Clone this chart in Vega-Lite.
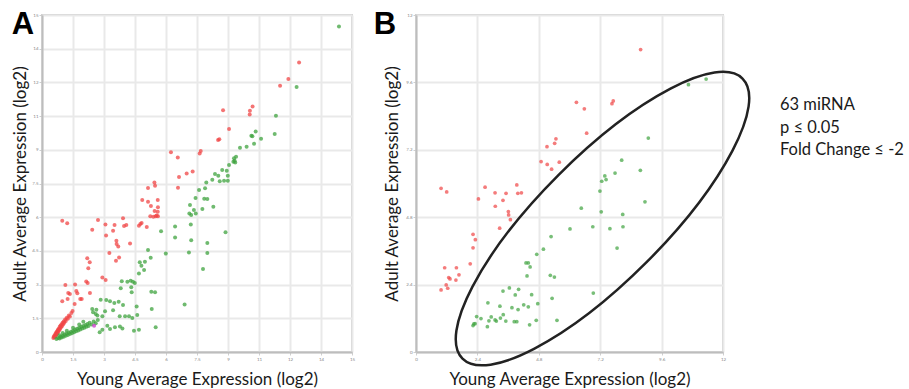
{
  "$schema": "https://vega.github.io/schema/vega-lite/v6.json",
  "background": "white",
  "padding": {"left": 10, "top": 8, "right": 5, "bottom": 5},
  "config": {
    "font": "Lato",
    "view": {"stroke": "#cfcfcf", "strokeWidth": 2},
    "axis": {
      "grid": true, "gridColor": "#e9e9e9", "gridWidth": 2,
      "domainColor": "#bdbdbd", "domainWidth": 2,
      "tickColor": "#cfcfcf", "tickSize": 3,
      "labelFontSize": 4.5, "labelColor": "#888", "labelPadding": 1, "labelFlush": false, "labelOverlap": false,
      "titleFontSize": 17, "titleFontWeight": "normal", "titleColor": "#1a1a1a", "titleFont": "Lato"
    }
  },
  "spacing": 16,
  "datasets": {
    "a": [
      {"young":12.44,"adult":12.89,"dir":"up"},{"young":11.92,"adult":12.15,"dir":"up"},{"young":11.52,"adult":11.85,"dir":"up"},{"young":10.19,"adult":10.93,"dir":"up"},{"young":10.06,"adult":10.74,"dir":"up"},{"young":10.05,"adult":10.57,"dir":"up"},{"young":8.76,"adult":10.76,"dir":"up"},{"young":9.05,"adult":9.93,"dir":"up"},{"young":8.52,"adult":9.44,"dir":"up"},{"young":8.58,"adult":9.47,"dir":"up"},{"young":7.68,"adult":8.95,"dir":"up"},{"young":7.63,"adult":8.84,"dir":"up"},{"young":6.24,"adult":8.89,"dir":"up"},{"young":6.57,"adult":8.66,"dir":"up"},{"young":7.29,"adult":8.03,"dir":"up"},{"young":7.0,"adult":7.94,"dir":"up"},{"young":6.63,"adult":7.79,"dir":"up"},{"young":6.58,"adult":7.31,"dir":"up"},{"young":5.44,"adult":7.55,"dir":"up"},{"young":5.47,"adult":7.4,"dir":"up"},{"young":5.13,"adult":7.3,"dir":"up"},{"young":4.85,"adult":6.77,"dir":"up"},{"young":5.13,"adult":6.69,"dir":"up"},{"young":5.6,"adult":6.77,"dir":"up"},{"young":5.27,"adult":6.5,"dir":"up"},{"young":5.61,"adult":6.44,"dir":"up"},{"young":5.45,"adult":6.28,"dir":"up"},{"young":5.6,"adult":6.24,"dir":"up"},{"young":5.24,"adult":6.04,"dir":"up"},{"young":5.39,"adult":6.02,"dir":"up"},{"young":5.5,"adult":6.04,"dir":"up"},{"young":5.55,"adult":6.08,"dir":"up"},{"young":5.61,"adult":6.04,"dir":"up"},{"young":3.92,"adult":5.95,"dir":"up"},{"young":3.07,"adult":5.67,"dir":"up"},{"young":3.51,"adult":5.65,"dir":"up"},{"young":3.97,"adult":5.61,"dir":"up"},{"young":4.08,"adult":5.65,"dir":"up"},{"young":4.69,"adult":5.62,"dir":"up"},{"young":4.76,"adult":5.7,"dir":"up"},{"young":4.82,"adult":5.74,"dir":"up"},{"young":5.07,"adult":5.56,"dir":"up"},{"young":3.44,"adult":5.4,"dir":"up"},{"young":3.1,"adult":5.19,"dir":"up"},{"young":3.6,"adult":4.95,"dir":"up"},{"young":3.61,"adult":4.81,"dir":"up"},{"young":3.69,"adult":4.7,"dir":"up"},{"young":4.26,"adult":4.83,"dir":"up"},{"young":3.26,"adult":4.41,"dir":"up"},{"young":3.73,"adult":4.21,"dir":"up"},{"young":3.58,"adult":4.06,"dir":"up"},{"young":0.98,"adult":5.84,"dir":"up"},{"young":1.22,"adult":5.73,"dir":"up"},{"young":2.43,"adult":5.44,"dir":"up"},{"young":2.71,"adult":5.88,"dir":"up"},{"young":2.19,"adult":4.17,"dir":"up"},{"young":2.31,"adult":3.99,"dir":"up"},{"young":2.24,"adult":3.73,"dir":"up"},{"young":2.92,"adult":3.32,"dir":"up"},{"young":3.08,"adult":3.2,"dir":"up"},{"young":2.14,"adult":3.14,"dir":"up"},{"young":2.21,"adult":3.07,"dir":"up"},{"young":1.13,"adult":2.98,"dir":"up"},{"young":1.6,"adult":3.0,"dir":"up"},{"young":1.27,"adult":2.63,"dir":"up"},{"young":1.35,"adult":2.58,"dir":"up"},{"young":1.66,"adult":2.72,"dir":"up"},{"young":1.71,"adult":2.61,"dir":"up"},{"young":1.85,"adult":2.36,"dir":"up"},{"young":1.92,"adult":2.36,"dir":"up"},{"young":2.32,"adult":2.63,"dir":"up"},{"young":0.98,"adult":2.26,"dir":"up"},{"young":1.24,"adult":2.36,"dir":"up"},{"young":1.58,"adult":2.14,"dir":"up"},
      {"young":0.55,"adult":0.62,"dir":"up"},{"young":0.58,"adult":0.7,"dir":"up"},{"young":0.6,"adult":0.66,"dir":"up"},{"young":0.62,"adult":0.75,"dir":"up"},{"young":0.63,"adult":0.68,"dir":"up"},{"young":0.65,"adult":0.8,"dir":"up"},{"young":0.67,"adult":0.72,"dir":"up"},{"young":0.68,"adult":0.86,"dir":"up"},{"young":0.7,"adult":0.78,"dir":"up"},{"young":0.72,"adult":0.9,"dir":"up"},{"young":0.73,"adult":0.82,"dir":"up"},{"young":0.75,"adult":0.95,"dir":"up"},{"young":0.77,"adult":0.88,"dir":"up"},{"young":0.78,"adult":1.0,"dir":"up"},{"young":0.8,"adult":0.93,"dir":"up"},{"young":0.82,"adult":1.05,"dir":"up"},{"young":0.84,"adult":0.98,"dir":"up"},{"young":0.86,"adult":1.12,"dir":"up"},{"young":0.88,"adult":1.04,"dir":"up"},{"young":0.9,"adult":1.18,"dir":"up"},{"young":0.92,"adult":1.1,"dir":"up"},{"young":0.95,"adult":1.24,"dir":"up"},{"young":0.97,"adult":1.16,"dir":"up"},{"young":1.0,"adult":1.3,"dir":"up"},{"young":1.02,"adult":1.22,"dir":"up"},{"young":1.05,"adult":1.36,"dir":"up"},{"young":1.08,"adult":1.3,"dir":"up"},{"young":1.12,"adult":1.45,"dir":"up"},{"young":1.15,"adult":1.38,"dir":"up"},{"young":1.2,"adult":1.52,"dir":"up"},{"young":1.25,"adult":1.48,"dir":"up"},{"young":1.3,"adult":1.62,"dir":"up"},{"young":1.35,"adult":1.58,"dir":"up"},{"young":1.42,"adult":1.74,"dir":"up"},{"young":1.48,"adult":1.82,"dir":"up"},
      {"young":14.37,"adult":14.49,"dir":"down"},{"young":12.32,"adult":11.8,"dir":"down"},{"young":11.32,"adult":10.52,"dir":"down"},{"young":11.26,"adult":9.7,"dir":"down"},{"young":10.34,"adult":9.81,"dir":"down"},{"young":10.13,"adult":9.63,"dir":"down"},{"young":10.18,"adult":9.6,"dir":"down"},{"young":10.6,"adult":9.49,"dir":"down"},{"young":10.26,"adult":9.27,"dir":"down"},{"young":9.9,"adult":9.14,"dir":"down"},{"young":9.58,"adult":9.09,"dir":"down"},{"young":9.39,"adult":8.69,"dir":"down"},{"young":9.29,"adult":8.62,"dir":"down"},{"young":9.32,"adult":8.51,"dir":"down"},{"young":9.26,"adult":8.47,"dir":"down"},{"young":9.35,"adult":8.44,"dir":"down"},{"young":9.05,"adult":8.32,"dir":"down"},{"young":8.72,"adult":8.1,"dir":"down"},{"young":8.94,"adult":8.07,"dir":"down"},{"young":8.37,"adult":7.92,"dir":"down"},{"young":8.53,"adult":7.85,"dir":"down"},{"young":8.24,"adult":7.67,"dir":"down"},{"young":8.6,"adult":7.6,"dir":"down"},{"young":8.99,"adult":7.85,"dir":"down"},{"young":8.81,"adult":7.62,"dir":"down"},{"young":8.99,"adult":7.62,"dir":"down"},{"young":7.95,"adult":7.55,"dir":"down"},{"young":7.89,"adult":7.29,"dir":"down"},{"young":7.6,"adult":7.21,"dir":"down"},{"young":7.43,"adult":6.85,"dir":"down"},{"young":7.85,"adult":6.82,"dir":"down"},{"young":8.0,"adult":6.81,"dir":"down"},{"young":7.16,"adult":6.54,"dir":"down"},{"young":7.35,"adult":6.32,"dir":"down"},{"young":7.76,"adult":6.36,"dir":"down"},{"young":8.29,"adult":6.47,"dir":"down"},{"young":7.13,"adult":6.16,"dir":"down"},{"young":7.22,"adult":6.1,"dir":"down"},{"young":7.44,"adult":6.16,"dir":"down"},{"young":6.44,"adult":5.59,"dir":"down"},{"young":7.2,"adult":5.67,"dir":"down"},{"young":5.76,"adult":5.37,"dir":"down"},{"young":6.44,"adult":5.1,"dir":"down"},{"young":7.22,"adult":4.97,"dir":"down"},{"young":8.0,"adult":4.85,"dir":"down"},{"young":8.88,"adult":5.33,"dir":"down"},{"young":5.13,"adult":4.54,"dir":"down"},{"young":5.26,"adult":4.2,"dir":"down"},{"young":5.99,"adult":4.38,"dir":"down"},{"young":7.11,"adult":4.43,"dir":"down"},{"young":8.0,"adult":4.41,"dir":"down"},{"young":7.79,"adult":3.69,"dir":"down"},{"young":4.81,"adult":3.84,"dir":"down"},{"young":4.73,"adult":3.99,"dir":"down"},{"young":4.98,"adult":4.02,"dir":"down"},{"young":4.94,"adult":3.65,"dir":"down"},{"young":4.69,"adult":3.49,"dir":"down"},{"young":3.86,"adult":3.15,"dir":"down"},{"young":4.13,"adult":3.13,"dir":"down"},{"young":4.29,"adult":3.17,"dir":"down"},{"young":4.4,"adult":3.13,"dir":"down"},{"young":4.49,"adult":3.07,"dir":"down"},{"young":3.81,"adult":2.84,"dir":"down"},{"young":4.32,"adult":2.88,"dir":"down"},{"young":4.34,"adult":2.66,"dir":"down"},{"young":5.29,"adult":2.68,"dir":"down"},{"young":5.47,"adult":2.66,"dir":"down"},{"young":2.84,"adult":2.33,"dir":"down"},{"young":3.11,"adult":2.31,"dir":"down"},{"young":3.29,"adult":2.26,"dir":"down"},{"young":3.5,"adult":2.18,"dir":"down"},{"young":3.71,"adult":2.24,"dir":"down"},{"young":3.92,"adult":2.09,"dir":"down"},{"young":4.58,"adult":2.03,"dir":"down"},{"young":5.31,"adult":1.91,"dir":"down"},{"young":6.9,"adult":2.11,"dir":"down"},{"young":2.43,"adult":1.91,"dir":"down"},{"young":2.63,"adult":1.88,"dir":"down"},{"young":2.47,"adult":1.77,"dir":"down"},{"young":3.05,"adult":1.81,"dir":"down"},{"young":3.44,"adult":1.86,"dir":"down"},{"young":3.76,"adult":1.59,"dir":"down"},{"young":4.02,"adult":1.59,"dir":"down"},{"young":4.21,"adult":1.59,"dir":"down"},{"young":4.37,"adult":1.51,"dir":"down"},{"young":4.61,"adult":1.65,"dir":"down"},{"young":2.92,"adult":1.59,"dir":"down"},{"young":5.5,"adult":1.1,"dir":"down"},{"young":4.69,"adult":0.99,"dir":"down"},{"young":3.89,"adult":1.05,"dir":"down"},{"young":3.77,"adult":1.14,"dir":"down"},{"young":3.53,"adult":1.1,"dir":"down"},{"young":3.16,"adult":1.17,"dir":"down"},{"young":3.29,"adult":1.02,"dir":"down"},{"young":2.79,"adult":0.88,"dir":"down"},{"young":2.92,"adult":0.99,"dir":"down"},{"young":2.6,"adult":1.69,"dir":"down"},{"young":2.68,"adult":1.62,"dir":"down"},{"young":4.45,"adult":0.95,"dir":"down"},
      {"young":0.7,"adult":0.58,"dir":"down"},{"young":0.78,"adult":0.62,"dir":"down"},{"young":0.85,"adult":0.6,"dir":"down"},{"young":0.9,"adult":0.68,"dir":"down"},{"young":0.95,"adult":0.64,"dir":"down"},{"young":1.0,"adult":0.72,"dir":"down"},{"young":1.05,"adult":0.68,"dir":"down"},{"young":1.1,"adult":0.78,"dir":"down"},{"young":1.15,"adult":0.72,"dir":"down"},{"young":1.2,"adult":0.82,"dir":"down"},{"young":1.25,"adult":0.76,"dir":"down"},{"young":1.3,"adult":0.86,"dir":"down"},{"young":1.35,"adult":0.8,"dir":"down"},{"young":1.4,"adult":0.9,"dir":"down"},{"young":1.45,"adult":0.84,"dir":"down"},{"young":1.5,"adult":0.95,"dir":"down"},{"young":1.55,"adult":0.88,"dir":"down"},{"young":1.6,"adult":1.0,"dir":"down"},{"young":1.65,"adult":0.92,"dir":"down"},{"young":1.7,"adult":1.04,"dir":"down"},{"young":1.75,"adult":0.96,"dir":"down"},{"young":1.8,"adult":1.08,"dir":"down"},{"young":1.85,"adult":1.0,"dir":"down"},{"young":1.9,"adult":1.12,"dir":"down"},{"young":1.95,"adult":1.05,"dir":"down"},{"young":2.0,"adult":1.16,"dir":"down"},{"young":2.05,"adult":1.08,"dir":"down"},{"young":2.1,"adult":1.2,"dir":"down"},{"young":2.15,"adult":1.12,"dir":"down"},{"young":2.2,"adult":1.25,"dir":"down"},{"young":2.25,"adult":1.16,"dir":"down"},{"young":2.3,"adult":1.3,"dir":"down"},{"young":2.4,"adult":1.22,"dir":"down"},{"young":2.5,"adult":1.36,"dir":"down"},{"young":2.6,"adult":1.28,"dir":"down"},{"young":2.7,"adult":1.42,"dir":"down"},{"young":1.2,"adult":0.95,"dir":"down"},{"young":1.5,"adult":1.08,"dir":"down"},{"young":1.8,"adult":1.22,"dir":"down"},{"young":2.0,"adult":1.35,"dir":"down"},{"young":1.0,"adult":0.85,"dir":"down"},{"young":0.85,"adult":0.75,"dir":"down"},
      {"young":2.52,"adult":1.17,"dir":"other"}
    ],
    "b": [
      {"young":0.98,"adult":5.83,"dir":"up"},{"young":1.2,"adult":5.7,"dir":"up"},{"young":2.7,"adult":5.87,"dir":"up"},{"young":2.44,"adult":5.45,"dir":"up"},{"young":3.09,"adult":5.67,"dir":"up"},{"young":3.52,"adult":5.65,"dir":"up"},{"young":3.4,"adult":5.4,"dir":"up"},{"young":3.1,"adult":5.19,"dir":"up"},{"young":3.94,"adult":5.95,"dir":"up"},{"young":3.98,"adult":5.65,"dir":"up"},{"young":4.12,"adult":5.67,"dir":"up"},{"young":3.61,"adult":5.0,"dir":"up"},{"young":3.62,"adult":4.88,"dir":"up"},{"young":3.69,"adult":4.71,"dir":"up"},{"young":3.27,"adult":4.41,"dir":"up"},{"young":4.89,"adult":6.78,"dir":"up"},{"young":5.13,"adult":6.68,"dir":"up"},{"young":5.6,"adult":6.76,"dir":"up"},{"young":2.23,"adult":4.19,"dir":"up"},{"young":2.32,"adult":4.0,"dir":"up"},{"young":2.23,"adult":3.71,"dir":"up"},{"young":2.12,"adult":3.14,"dir":"up"},{"young":1.12,"adult":3.0,"dir":"up"},{"young":1.58,"adult":3.0,"dir":"up"},{"young":1.68,"adult":2.75,"dir":"up"},{"young":1.28,"adult":2.65,"dir":"up"},{"young":1.33,"adult":2.6,"dir":"up"},{"young":1.56,"adult":2.56,"dir":"up"},{"young":1.18,"adult":2.39,"dir":"up"},{"young":1.24,"adult":2.27,"dir":"up"},{"young":0.98,"adult":2.21,"dir":"up"},{"young":8.78,"adult":10.77,"dir":"up"},{"young":6.27,"adult":8.89,"dir":"up"},{"young":6.58,"adult":8.66,"dir":"up"},{"young":7.66,"adult":8.84,"dir":"up"},{"young":7.71,"adult":8.94,"dir":"up"},{"young":6.67,"adult":7.79,"dir":"up"},{"young":5.47,"adult":7.59,"dir":"up"},{"young":5.42,"adult":7.43,"dir":"up"},{"young":5.12,"adult":7.31,"dir":"up"},{"young":5.3,"adult":6.51,"dir":"up"},
      {"young":6.02,"adult":4.38,"dir":"down"},{"young":5.28,"adult":4.11,"dir":"down"},{"young":4.98,"adult":3.66,"dir":"down"},{"young":4.72,"adult":3.48,"dir":"down"},{"young":4.3,"adult":3.17,"dir":"down"},{"young":4.39,"adult":3.17,"dir":"down"},{"young":4.46,"adult":3.03,"dir":"down"},{"young":4.34,"adult":2.71,"dir":"down"},{"young":5.25,"adult":2.73,"dir":"down"},{"young":5.41,"adult":2.67,"dir":"down"},{"young":3.65,"adult":2.28,"dir":"down"},{"young":3.4,"adult":2.17,"dir":"down"},{"young":4.01,"adult":2.23,"dir":"down"},{"young":3.88,"adult":2.03,"dir":"down"},{"young":4.52,"adult":2.04,"dir":"down"},{"young":5.32,"adult":1.91,"dir":"down"},{"young":2.81,"adult":1.75,"dir":"down"},{"young":3.28,"adult":1.63,"dir":"down"},{"young":3.75,"adult":1.58,"dir":"down"},{"young":3.99,"adult":1.51,"dir":"down"},{"young":4.21,"adult":1.68,"dir":"down"},{"young":4.39,"adult":1.61,"dir":"down"},{"young":4.76,"adult":1.72,"dir":"down"},{"young":2.37,"adult":1.26,"dir":"down"},{"young":2.54,"adult":1.19,"dir":"down"},{"young":2.94,"adult":1.25,"dir":"down"},{"young":3.09,"adult":1.14,"dir":"down"},{"young":3.14,"adult":1.1,"dir":"down"},{"young":3.41,"adult":1.33,"dir":"down"},{"young":3.3,"adult":1.21,"dir":"down"},{"young":3.51,"adult":1.1,"dir":"down"},{"young":3.84,"adult":1.08,"dir":"down"},{"young":3.94,"adult":1.08,"dir":"down"},{"young":2.85,"adult":1.11,"dir":"down"},{"young":2.26,"adult":1.0,"dir":"down"},{"young":2.31,"adult":1.01,"dir":"down"},{"young":2.23,"adult":0.94,"dir":"down"},{"young":2.79,"adult":0.9,"dir":"down"},{"young":4.44,"adult":0.97,"dir":"down"},{"young":4.7,"adult":1.13,"dir":"down"},{"young":5.51,"adult":1.13,"dir":"down"},{"young":10.65,"adult":9.52,"dir":"down"},{"young":11.34,"adult":9.72,"dir":"down"},{"young":9.08,"adult":7.62,"dir":"down"},{"young":8.04,"adult":6.83,"dir":"down"},{"young":8.77,"adult":6.47,"dir":"down"},{"young":7.78,"adult":6.37,"dir":"down"},{"young":7.38,"adult":6.27,"dir":"down"},{"young":7.43,"adult":6.14,"dir":"down"},{"young":7.26,"adult":6.08,"dir":"down"},{"young":7.19,"adult":5.73,"dir":"down"},{"young":8.95,"adult":5.35,"dir":"down"},{"young":6.46,"adult":5.12,"dir":"down"},{"young":7.24,"adult":4.99,"dir":"down"},{"young":8.08,"adult":4.9,"dir":"down"},{"young":6.91,"adult":4.46,"dir":"down"},{"young":7.58,"adult":4.39,"dir":"down"},{"young":8.09,"adult":4.46,"dir":"down"},{"young":7.86,"adult":3.7,"dir":"down"},{"young":6.93,"adult":2.1,"dir":"down"}
    ],
    "ring": [{"young": 7.29, "adult": 4.75}],
    "note": [{"line": "63 miRNA"}, {"line": "p ≤ 0.05"}, {"line": "Fold Change ≤ -2"}]
  },
  "hconcat": [
    {
      "width": 310, "height": 337,
      "title": {"text": "A", "anchor": "start", "frame": "bounds", "orient": "top", "baseline": "top", "offset": -29, "fontSize": 31, "font": "Liberation Sans", "fontWeight": "bold", "color": "#000"},
      "data": {"name": "a"},
      "mark": {"type": "point", "filled": true, "size": 16, "opacity": 0.75},
      "encoding": {
        "x": {"field": "young", "type": "quantitative", "scale": {"domain": [0, 15], "nice": false},
              "axis": {"values": [0, 1.5, 3, 4.5, 6, 7.5, 9, 10.5, 12, 13.5, 15], "format": "~g", "title": "Young Average Expression (log2)", "titlePadding": 11}},
        "y": {"field": "adult", "type": "quantitative", "scale": {"domain": [0, 15], "nice": false},
              "axis": {"values": [0, 1.5, 3, 4.5, 6, 7.5, 9, 10.5, 12, 13.5, 15], "format": "~g", "title": "Adult Average Expression (log2)", "titlePadding": 2}},
        "color": {"field": "dir", "type": "nominal", "scale": {"domain": ["up", "down", "other"], "range": ["#f04545", "#3fa33f", "#cc33cc"]}, "legend": null}
      }
    },
    {
      "width": 307, "height": 337,
      "title": {"text": "B", "anchor": "start", "frame": "bounds", "orient": "top", "baseline": "top", "offset": -29, "dx": -10, "fontSize": 31, "font": "Liberation Sans", "fontWeight": "bold", "color": "#000"},
      "layer": [
        {
          "data": {"name": "b"},
          "mark": {"type": "point", "filled": true, "size": 14, "opacity": 0.7},
          "encoding": {
            "x": {"field": "young", "type": "quantitative", "scale": {"domain": [0, 12], "nice": false},
                  "axis": {"values": [0, 1.2, 2.4, 3.6, 4.8, 6, 7.2, 8.4, 9.6, 10.8, 12], "format": "~g", "title": "Young Average Expression (log2)", "titlePadding": 11}},
            "y": {"field": "adult", "type": "quantitative", "scale": {"domain": [0, 12], "nice": false},
                  "axis": {"values": [0, 1.2, 2.4, 3.6, 4.8, 6, 7.2, 8.4, 9.6, 10.8, 12], "format": "~g", "title": "Adult Average Expression (log2)", "titlePadding": 4}},
            "color": {"field": "dir", "type": "nominal", "scale": {"domain": ["up", "down"], "range": ["#f47a7a", "#5cb85c"]}, "legend": null}
          }
        },
        {
          "data": {"name": "ring"},
          "mark": {"type": "point", "filled": false, "size": 40000, "opacity": 1, "stroke": "#222", "strokeWidth": 2.5,
                   "shape": "M1.4001,-1.4001C1.6422,-1.158,1.2117,-0.3349,0.4384,0.4384C-0.3349,1.2117,-1.158,1.6422,-1.4001,1.4001C-1.6422,1.158,-1.2117,0.3349,-0.4384,-0.4384C0.3349,-1.2117,1.158,-1.6422,1.4001,-1.4001Z"},
          "encoding": {
            "x": {"field": "young", "type": "quantitative"},
            "y": {"field": "adult", "type": "quantitative"}
          }
        }
      ]
    },
    {
      "width": 16, "height": 337,
      "view": {"stroke": null},
      "data": {"name": "note"},
      "mark": {"type": "text", "align": "left", "baseline": "alphabetic", "fontSize": 16.5, "font": "Lato", "color": "#1a1a1a"},
      "encoding": {
        "text": {"field": "line"},
        "y": {"field": "line", "type": "nominal", "sort": null, "axis": null, "scale": {"type": "point", "range": [95, 140], "padding": 0}}
      }
    }
  ]
}
